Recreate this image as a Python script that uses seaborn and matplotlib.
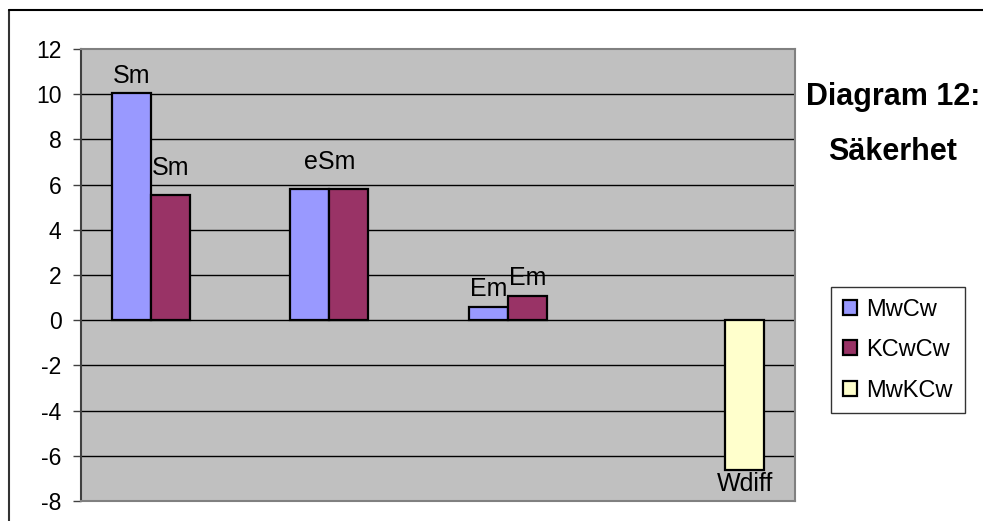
import numpy as np
import pandas as pd
import matplotlib
matplotlib.use("Agg")
import matplotlib.pyplot as plt
from matplotlib.lines import Line2D
import seaborn as sns

# --- Data ---
categories = ["Sm", "eSm", "Em", "Wdiff"]
series     = ["MwCw", "KCwCw", "MwKCw"]
mwcw       = [10.05, 5.8, 0.6, np.nan]
kcwcw      = [5.55, 5.8, 1.05, np.nan]
mwkcw      = [np.nan, np.nan, np.nan, -6.65]
mwcw_lbl   = ["Sm", "", "Em", ""]
kcwcw_lbl  = ["Sm", "eSm", "Em", ""]
mwkcw_lbl  = ["", "", "", "Wdiff"]
yticks     = [-8, -6, -4, -2, 0, 2, 4, 6, 8, 10, 12]

colors = {"MwCw": "#9999FF", "KCwCw": "#993366", "MwKCw": "#FFFFCC"}

rows = []
for s, vals, lbls in zip(series, [mwcw, kcwcw, mwkcw], [mwcw_lbl, kcwcw_lbl, mwkcw_lbl]):
    for c, v, l in zip(categories, vals, lbls):
        if not np.isnan(v):
            rows.append({"kategori": c, "serie": s, "varde": v, "etikett": l})
df = pd.DataFrame(rows)

sns.set_style("white")
plt.rcParams["font.family"] = ["Liberation Sans", "DejaVu Sans"]
plt.rcParams["text.color"] = "black"
plt.rcParams["ytick.labelcolor"] = "black"

fig = plt.figure(figsize=(9.83, 5.21), dpi=100)
ax = fig.add_axes([81 / 983, 1 - 501 / 521, (795 - 81) / 983, (501 - 49) / 521])
ax.set_facecolor("#C0C0C0")

sns.barplot(data=df, x="kategori", y="varde", hue="serie", order=categories,
            hue_order=series, palette=colors, width=0.655, errorbar=None,
            edgecolor="black", linewidth=1.6, saturation=1, ax=ax, legend=True)

# data labels taken from the bars themselves
LBL_SIZE = 18
for cont, s in zip(ax.containers, series):
    sub = df[df["serie"] == s].set_index("kategori").reindex(categories).dropna()
    for bar, lbl in zip(cont, sub["etikett"]):
        if not lbl:
            continue
        h = bar.get_height()
        x = bar.get_x() + bar.get_width() / 2
        if lbl == "eSm":
            x = bar.get_x()
        if h < 0:
            ax.annotate(lbl, (x, h), xytext=(0, -1), textcoords="offset points",
                        ha="center", va="top", fontsize=LBL_SIZE)
        else:
            raised = lbl == "eSm" or (lbl == "Sm" and s == "KCwCw")
            pad = 14.5 if raised else (8.5 if s == "KCwCw" else 7.5)
            ax.annotate(lbl, (x, h), xytext=(0, pad), textcoords="offset points",
                        ha="center", va="baseline", fontsize=LBL_SIZE)

ax.set_ylim(-8, 12)
ax.set_yticks(yticks)
ax.set_yticklabels([str(t) for t in yticks], fontsize=16.5)
ax.set_xticks([])
ax.set_xlabel("")
ax.set_ylabel("")
ax.set_xlim(-0.5, len(categories) - 0.5)

for t in yticks[1:-1]:
    ax.axhline(t, color="black", lw=1, zorder=0.5)

for side in ["top", "right", "bottom"]:
    ax.spines[side].set_color("#808080")
    ax.spines[side].set_linewidth(1.5)
ax.spines["left"].set_color("#404040")
ax.spines["left"].set_linewidth(1.5)
ax.tick_params(axis="y", direction="out", length=6, width=1, color="#404040",
               pad=8, left=True)

# legend
handles, labels = ax.get_legend_handles_labels()
ax.legend(handles, labels, loc="upper left",
          bbox_to_anchor=(831 / 983, 1 - 287 / 521), bbox_transform=fig.transFigure,
          fontsize=17, frameon=True, fancybox=False, edgecolor="black",
          handlelength=0.6, handleheight=0.6, handletextpad=0.4,
          labelspacing=0.78, borderpad=0.5, borderaxespad=0)
ax.get_legend().get_frame().set_linewidth(1)

# title
fig.text(893 / 983, 1 - 105 / 521, "Diagram 12:", ha="center", va="baseline",
         fontsize=22, fontweight="bold")
fig.text(893 / 983, 1 - 160 / 521, "Säkerhet", ha="center", va="baseline",
         fontsize=22, fontweight="bold")

# chart area border (top and left visible)
fig.add_artist(Line2D([9 / 983, 9 / 983], [0, 1 - 10 / 521], color="#333333",
                      lw=1.5, transform=fig.transFigure))
fig.add_artist(Line2D([9 / 983, 1], [1 - 10 / 521, 1 - 10 / 521], color="black",
                      lw=1.5, transform=fig.transFigure))

fig.savefig("out.png", dpi=100)
